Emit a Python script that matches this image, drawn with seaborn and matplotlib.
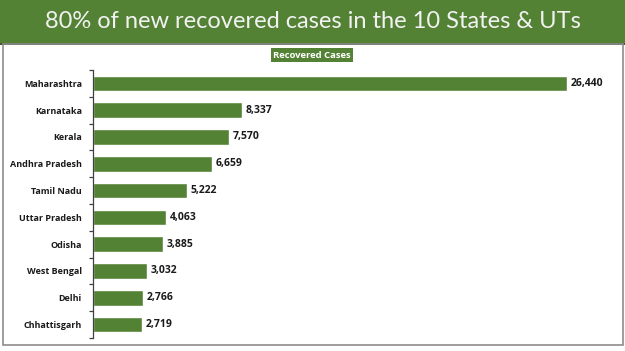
import numpy as np
import pandas as pd
import matplotlib
matplotlib.use("Agg")
import matplotlib.pyplot as plt
import seaborn as sns
from matplotlib.patches import Rectangle

states = ["Maharashtra", "Karnataka", "Kerala", "Andhra Pradesh", "Tamil Nadu",
          "Uttar Pradesh", "Odisha", "West Bengal", "Delhi", "Chhattisgarh"]
recovered = [26440, 8337, 7570, 6659, 5222, 4063, 3885, 3032, 2766, 2719]

title = "80% of new recovered cases in the 10 States & UTs"
legend_label = "Recovered Cases"

green = "#548235"
lab_font = ["Open Sans", "DejaVu Sans"]

sns.set_style("white")
plt.rcParams['font.family'] = lab_font

df = pd.DataFrame({"State": states, "Recovered": recovered})

W, H = 625, 351
fig = plt.figure(figsize=(W / 100, H / 100), dpi=100)

# title banner
fig.patches.append(Rectangle((0, 1 - 43 / H), 1, 43 / H, transform=fig.transFigure,
                             facecolor=green, edgecolor="none", zorder=0))
fig.patches.append(Rectangle((0, 1 - 44.5 / H), 1, 1.5 / H, transform=fig.transFigure,
                             facecolor="#3d5a28", edgecolor="none", zorder=1))
# outer frame
fig.patches.append(Rectangle((2.5 / W, 6 / H), 620 / W, (H - 50) / H, transform=fig.transFigure,
                             facecolor="none", edgecolor="#8c8c8c", linewidth=1.2, zorder=1))
fig.text(0.5, 1 - 21 / H, title, ha="center", va="center", color="#f2f2f2",
         fontsize=17, family=["Lato", "DejaVu Sans"])

# legend-like label
fig.text(312 / W, 1 - 55 / H, legend_label, ha="center", va="center", color="white",
         fontsize=6.8, fontweight="bold",
         bbox=dict(boxstyle="square,pad=0.25", facecolor=green, edgecolor="none"))

ax = fig.add_axes([93 / W, 13 / H, 474 / W, 268 / H])
sns.barplot(data=df, y="State", x="Recovered", orient="h", color=green,
            saturation=1, width=0.58, ax=ax)
ax.set_xlim(0, max(recovered))
ax.set_ylim(len(states) - 0.5, -0.5)

for i, v in enumerate(recovered):
    ax.text(v + 200, i, f"{v:,}", va="center", ha="left", fontsize=7.5,
            fontweight="bold", color="#1a1a1a", clip_on=False)

for s in ["top", "right", "bottom"]:
    ax.spines[s].set_visible(False)
ax.spines["left"].set_color("#404040")
ax.spines["left"].set_linewidth(0.9)
ax.set_xticks([])
ax.set_xlabel("")
ax.set_ylabel("")
ax.tick_params(axis="y", which="major", length=0, pad=8, labelsize=6.5)
for lbl in ax.get_yticklabels():
    lbl.set_fontweight("bold")
    lbl.set_color("#1a1a1a")
ax.set_yticks(np.arange(-0.5, len(states), 1), minor=True)
ax.tick_params(axis="y", which="minor", length=3, width=0.9, color="#404040", left=True)

fig.savefig("out.png", dpi=100)
